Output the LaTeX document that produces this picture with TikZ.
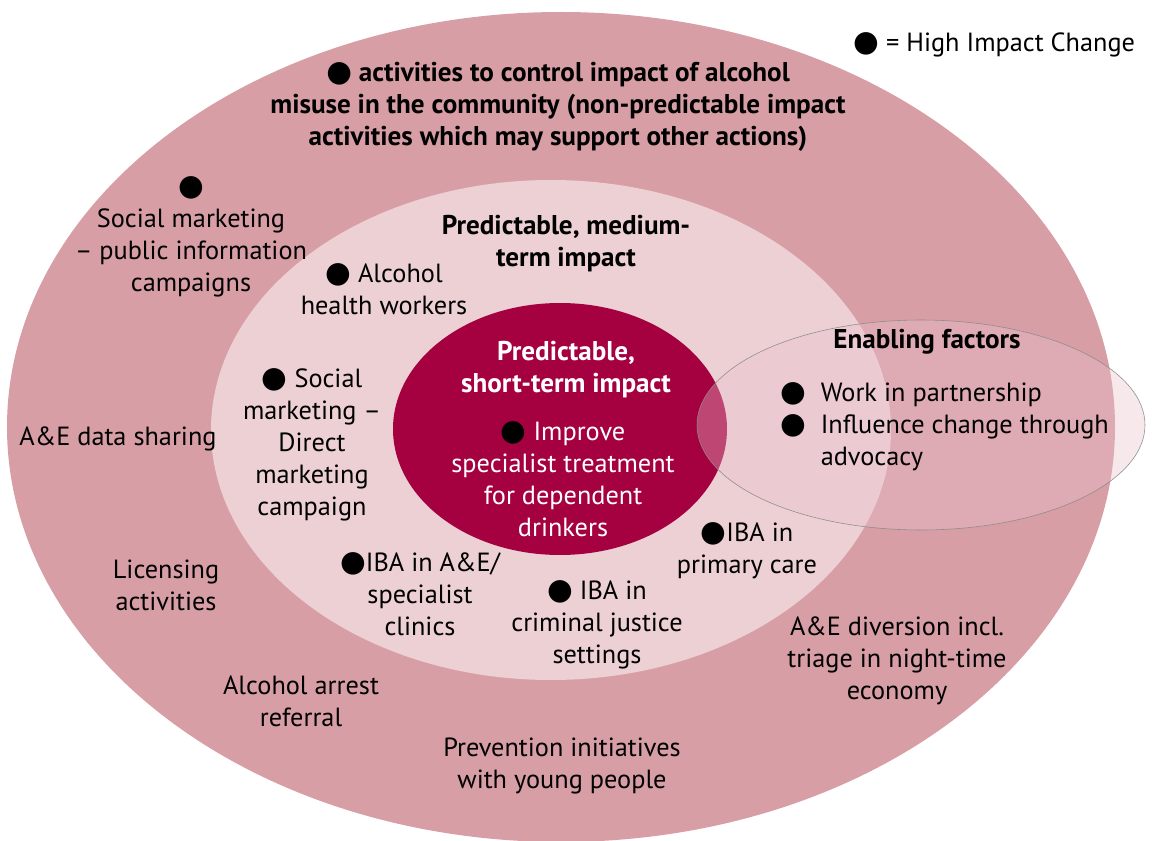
\documentclass[tikz,border=0pt]{standalone}
\usepackage{fontspec}
\setmainfont{PT Sans}
\newfontfamily\dejavu{DejaVu Sans}
\newcommand{\hic}{{\dejavu\fontsize{21}{21}\selectfont\color{black}●}}
\definecolor{outerpink}{HTML}{D89EA6}
\definecolor{midpink}{HTML}{EDD0D4}
\definecolor{wine}{HTML}{A50040}
\definecolor{enablefill}{HTML}{E9C0CC}
\definecolor{enableline}{HTML}{8C8C8C}
\begin{document}
\begin{tikzpicture}[x=0.025cm,y=-0.025cm,
  txt/.style={align=center,font=\fontsize{18.7}{22.7}\selectfont},
  head/.style={align=center,font=\fontsize{19.3}{22.7}\selectfont\bfseries}]
\useasboundingbox (0,0) rectangle (1152,841);
% rings
\fill[outerpink] (561,427) ellipse (554 and 415);
\fill[midpink] (551,430) ellipse (340 and 250);
\fill[wine] (560,429) ellipse (167 and 126);
\draw[enableline,fill=enablefill,fill opacity=0.365] (921,425) ellipse (224 and 105);
% labels
\node[txt,anchor=east] (legend) at (1140,45) {\hic{} = High Impact Change};
\node[head] (community) at (558,107) {\hic{} activities to control impact of alcohol\\misuse in the community (non-predictable impact\\activities which may support other actions)};
\node[txt] (pubinfo) at (191,237) {\hic\\Social marketing\\– public information\\campaigns};
\node[txt] (aedata) at (118,439) {A\&E data sharing};
\node[txt] (licensing) at (166,585) {Licensing\\activities};
\node[txt] (arrest) at (301,701) {Alcohol arrest\\referral};
\node[txt] (young) at (562,766) {Prevention initiatives\\with young people};
\node[txt] (diversion) at (897,661) {A\&E diversion incl.\\triage in night-time\\economy};
\node[head] (medium) at (566,244) {Predictable, medium-\\term impact};
\node[txt] (workers) at (384,289) {\hic{} Alcohol\\health workers};
\node[txt] (direct) at (312,445) {\hic{} Social\\marketing –\\Direct\\marketing\\campaign};
\node[txt] (ibaae) at (420,594) {\hic{}IBA in A\&E/\\specialist\\clinics};
\node[txt] (ibacj) at (597,625) {\hic{} IBA in\\criminal justice\\settings};
\node[txt] (ibapc) at (747,551) {\hic{}IBA in\\primary care};
\node[head,text=white] (short) at (566,370) {Predictable,\\short-term impact};
\node[txt,text=white] (specialist) at (563,479) {\hic{} Improve\\specialist treatment\\for dependent\\drinkers};
\node[head] (enabling) at (927,342) {Enabling factors};
\node[txt,align=left,anchor=west] (partner) at (776,427) {\hic\ \ Work in partnership\\\hic\ \ Influence change through\\\phantom{\hic}\ \ advocacy};
\end{tikzpicture}
\end{document}
